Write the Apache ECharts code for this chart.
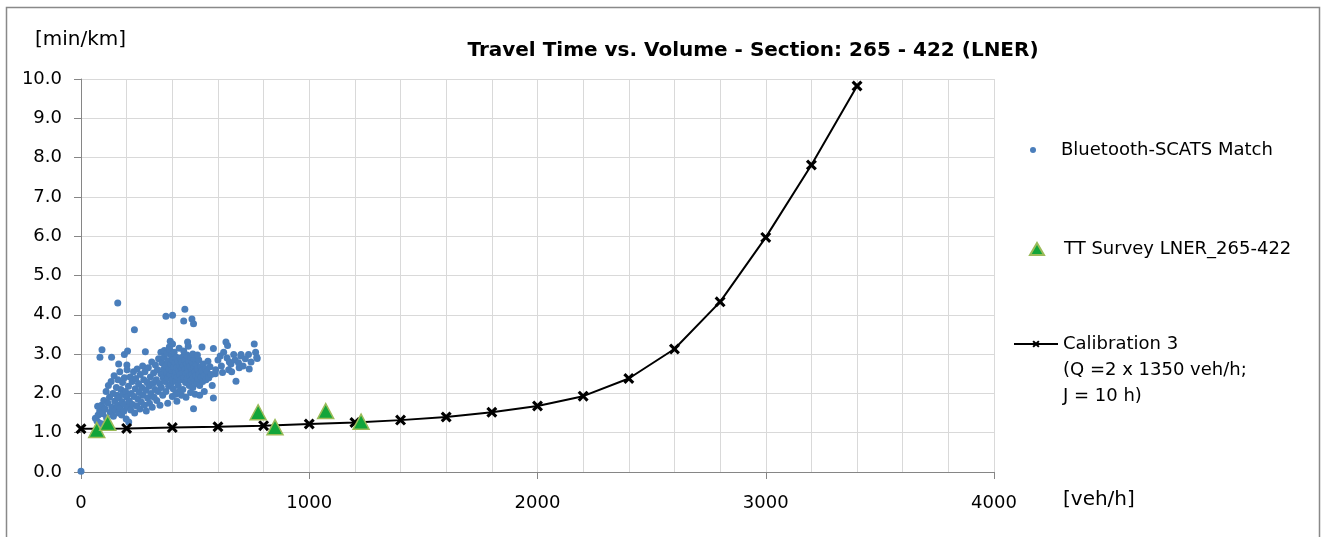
<!DOCTYPE html>
<html>
<head>
<meta charset="utf-8">
<script src="https://cdn.jsdelivr.net/npm/echarts@6/dist/echarts.min.js"></script>
<style>
  html, body { margin: 0; padding: 0; background: #fff; }
  #chart { width: 1322px; height: 537px; }
</style>
</head>
<body>
<div id="chart"></div>
<script>
var chart = echarts.init(document.getElementById('chart'));

// Bluetooth-SCATS match points [veh/h, min/km]
var bluetoothPoints = [
  [0, 0.02],
  [161, 4.30], [455, 4.14], [372, 3.96], [401, 3.99], [450, 3.84], [486, 3.89], [493, 3.77],
  [234, 3.62], [92, 3.11], [83, 2.92], [134, 2.92], [190, 2.99], [204, 3.08], [282, 3.06],
  [165, 2.75], [201, 2.72], [391, 3.33], [401, 3.26], [387, 3.18], [467, 3.31], [350, 3.05],
  [365, 3.09], [530, 3.18], [580, 3.14], [635, 3.31], [642, 3.22], [669, 2.99], [701, 2.99],
  [734, 2.99], [759, 3.26], [772, 2.89], [737, 2.62], [693, 2.65], [657, 2.75], [647, 2.60],
  [620, 2.53], [588, 2.50], [679, 2.31], [580, 1.88], [493, 1.61], [209, 1.27], [63, 1.37],
  [73, 1.67], [80, 1.25], [95, 1.22],
  [70, 1.30], [75, 1.45], [82, 1.55], [90, 1.70], [95, 1.48], [100, 1.82], [105, 1.60],
  [110, 2.05], [112, 1.38], [118, 1.75], [120, 2.20], [125, 1.90], [128, 1.52], [132, 2.30],
  [135, 1.65], [140, 2.00], [142, 1.42], [145, 2.45], [148, 1.80], [150, 1.58], [155, 2.15],
  [158, 1.95], [160, 1.70], [162, 2.35], [165, 1.50], [168, 1.88], [170, 2.55], [172, 1.62],
  [175, 2.10], [178, 1.45], [180, 1.78], [182, 2.28], [185, 1.98], [188, 1.55], [190, 2.40],
  [192, 1.72], [195, 2.05], [198, 1.35], [200, 1.90], [202, 2.60],
  [205, 1.65], [208, 2.18], [212, 1.80], [215, 2.42], [218, 1.58], [220, 2.00], [224, 2.30],
  [226, 1.72], [230, 2.55], [232, 1.92], [235, 1.50], [238, 2.12], [240, 2.38], [244, 1.68],
  [246, 2.62], [250, 1.85], [252, 2.25], [255, 2.02], [258, 1.60], [260, 2.48], [264, 1.78],
  [266, 2.15], [270, 2.70], [272, 1.95], [275, 2.35], [278, 1.70], [280, 2.55], [284, 2.08],
  [286, 1.55], [290, 2.28], [292, 1.88], [295, 2.65], [298, 2.18], [300, 1.75], [304, 2.42],
  [306, 2.00], [310, 2.80], [312, 1.65], [315, 2.25], [318, 2.52], [320, 1.90], [324, 2.10],
  [326, 2.72], [330, 2.35], [332, 1.82], [335, 2.60], [338, 2.05], [340, 2.88], [344, 2.25],
  [346, 1.70], [350, 2.50], [352, 2.15], [355, 2.78], [358, 1.95], [360, 2.40],
  [362, 2.62], [365, 2.92], [368, 2.30], [370, 2.70], [372, 2.05], [375, 2.52], [378, 3.02],
  [380, 2.40], [382, 2.82], [384, 2.18], [386, 2.62], [388, 3.12], [390, 2.48], [392, 2.75],
  [394, 2.25], [396, 2.95], [398, 2.58], [400, 2.35], [402, 2.85], [404, 2.12], [406, 2.68],
  [408, 3.05], [410, 2.45], [412, 2.78], [414, 2.55], [416, 2.30], [418, 2.92], [420, 2.65],
  [422, 2.42], [424, 2.82], [426, 2.20], [428, 2.58], [430, 3.15], [432, 2.72], [434, 2.48],
  [436, 2.90], [438, 2.35], [440, 2.62], [442, 2.80], [444, 2.52], [446, 2.10], [448, 2.70],
  [450, 2.95], [452, 2.40], [454, 2.60], [456, 2.85], [458, 2.28], [460, 2.50], [462, 2.75],
  [464, 2.98], [466, 2.38], [468, 2.65], [470, 2.55], [472, 2.82], [474, 2.20], [476, 2.45],
  [478, 2.70], [480, 2.92], [482, 2.32], [484, 2.60], [486, 2.48], [488, 2.78], [490, 2.15],
  [492, 2.40], [494, 2.66], [496, 2.88], [498, 2.30], [500, 2.55], [502, 2.45], [505, 2.72],
  [508, 2.25], [510, 2.62], [513, 2.38], [516, 2.85], [518, 2.50], [520, 2.20], [524, 2.68],
  [526, 2.42], [530, 2.58], [533, 2.30], [536, 2.75], [540, 2.45], [545, 2.62], [548, 2.35],
  [552, 2.55], [556, 2.82], [560, 2.40], [565, 2.68], [570, 2.48], [575, 2.20],
  [540, 2.05], [520, 1.95], [500, 1.98], [480, 2.02], [460, 1.90], [440, 1.95], [420, 1.80],
  [400, 1.92], [380, 1.75], [450, 3.08], [470, 3.20], [490, 3.00], [510, 2.98], [430, 2.05],
  [415, 1.98],
  [590, 2.60], [600, 2.85], [610, 2.95], [615, 2.70], [625, 3.05], [640, 2.90], [650, 2.80],
  [660, 2.55], [675, 2.85], [690, 2.78], [700, 2.95], [710, 2.70], [720, 2.88], [745, 2.80],
  [765, 3.05], [770, 2.92]
];

// TT survey points
var surveyPoints = [
  [69, 1.07], [117, 1.25], [776, 1.52], [850, 1.14], [1072, 1.55], [1227, 1.28]
];

// Calibration 3 curve
var calibVolume = [0, 200, 400, 600, 800, 1000, 1200, 1400, 1600, 1800, 2000, 2200, 2400, 2600, 2800, 3000, 3200, 3400];
var calibTime = [1.10, 1.11, 1.13, 1.15, 1.18, 1.22, 1.26, 1.32, 1.40, 1.52, 1.68, 1.93, 2.38, 3.13, 4.33, 5.97, 7.81, 9.82];

var crossPath = 'path://M0,2L2,0L5,3L8,0L10,2L7,5L10,8L8,10L5,7L2,10L0,8L3,5Z';
var font = 'DejaVu Sans';

var calibData = calibVolume.map(function (v, i) { return [v, calibTime[i]]; });

var option = {
  animation: false,
  textStyle: { fontFamily: font },
  title: {
    text: 'Travel Time vs. Volume - Section: 265 - 422 (LNER)',
    left: 748,
    top: 36,
    textAlign: 'center',
    textStyle: { fontSize: 20, fontWeight: 'bold', color: '#000', fontFamily: font }
  },
  grid: { left: 81, right: 328, top: 79, bottom: 65 },
  xAxis: {
    type: 'value',
    min: 0,
    max: 4000,
    interval: 1000,
    axisLine: { show: true, onZero: false, lineStyle: { color: '#868686', width: 1 } },
    axisTick: { show: true, length: 7, lineStyle: { color: '#868686' } },
    axisLabel: {
      fontSize: 18, color: '#000', margin: 22,
      formatter: function (v) { return String(v); }
    },
    splitLine: { show: true, lineStyle: { color: '#D9D9D9', width: 1 } },
    minorTick: { show: false, splitNumber: 5 },
    minorSplitLine: { show: true, lineStyle: { color: '#D9D9D9', width: 1 } }
  },
  yAxis: {
    type: 'value',
    min: 0,
    max: 10,
    interval: 1,
    axisLine: { show: true, onZero: false, lineStyle: { color: '#868686', width: 1 } },
    axisTick: { show: true, length: 7, lineStyle: { color: '#868686' } },
    axisLabel: {
      fontSize: 18, color: '#000', margin: 19,
      formatter: function (v) { return v.toFixed(1); }
    },
    splitLine: { show: true, lineStyle: { color: '#D9D9D9', width: 1 } }
  },
  legend: [
    {
      orient: 'vertical', left: 1030, top: 141, padding: 0, itemWidth: 10, itemHeight: 6,
      textStyle: { fontSize: 18, color: '#000', fontFamily: font, padding: [0, 0, 0, 18] },
      data: [{ name: 'Bluetooth-SCATS Match', icon: 'circle' }]
    },
    {
      orient: 'vertical', left: 1029, top: 240, padding: 0, itemWidth: 14, itemHeight: 12,
      textStyle: { fontSize: 18, color: '#000', fontFamily: font, padding: [0, 0, 0, 15] },
      data: [{ name: 'TT Survey LNER_265-422', icon: 'triangle' }]
    },
    {
      orient: 'vertical', left: 1013, top: 335, padding: 0, itemWidth: 44, itemHeight: 9,
      textStyle: { fontSize: 18, color: '#000', fontFamily: font },
      data: [{ name: 'Calibration 3' }]
    }
  ],
  graphic: [
    {
      type: 'rect', left: 4, top: 5, silent: true,
      shape: { width: 1313, height: 545 },
      style: { fill: 'none', stroke: '#898989', lineWidth: 1.5 }
    },
    {
      type: 'text', left: 35, top: 30,
      style: { text: '[min/km]', fontSize: 20, fill: '#000', fontFamily: font }
    },
    {
      type: 'text', left: 1063, top: 490,
      style: { text: '[veh/h]', fontSize: 20, fill: '#000', fontFamily: font }
    },
    {
      type: 'text', left: 1063, top: 357,
      style: { text: '(Q =2 x 1350 veh/h;\nJ = 10 h)', fontSize: 18, lineHeight: 26, fill: '#000', fontFamily: font }
    }
  ],
  series: [
    {
      name: 'Bluetooth-SCATS Match',
      type: 'scatter',
      symbol: 'circle',
      symbolSize: 7,
      itemStyle: { color: '#4A7EBB', opacity: 1 },
      data: bluetoothPoints,
      z: 2
    },
    {
      name: 'Calibration 3',
      type: 'line',
      symbol: crossPath,
      symbolSize: 11,
      showAllSymbol: true,
      lineStyle: { color: '#000', width: 2 },
      itemStyle: { color: '#000' },
      data: calibData,
      z: 3
    },
    {
      name: 'TT Survey LNER_265-422',
      type: 'scatter',
      symbol: 'triangle',
      symbolSize: [16, 15],
      itemStyle: { color: '#12A53A', borderColor: '#9BBB59', borderWidth: 1.5, opacity: 1 },
      data: surveyPoints,
      z: 4
    }
  ]
};

chart.setOption(option);
</script>
</body>
</html>
